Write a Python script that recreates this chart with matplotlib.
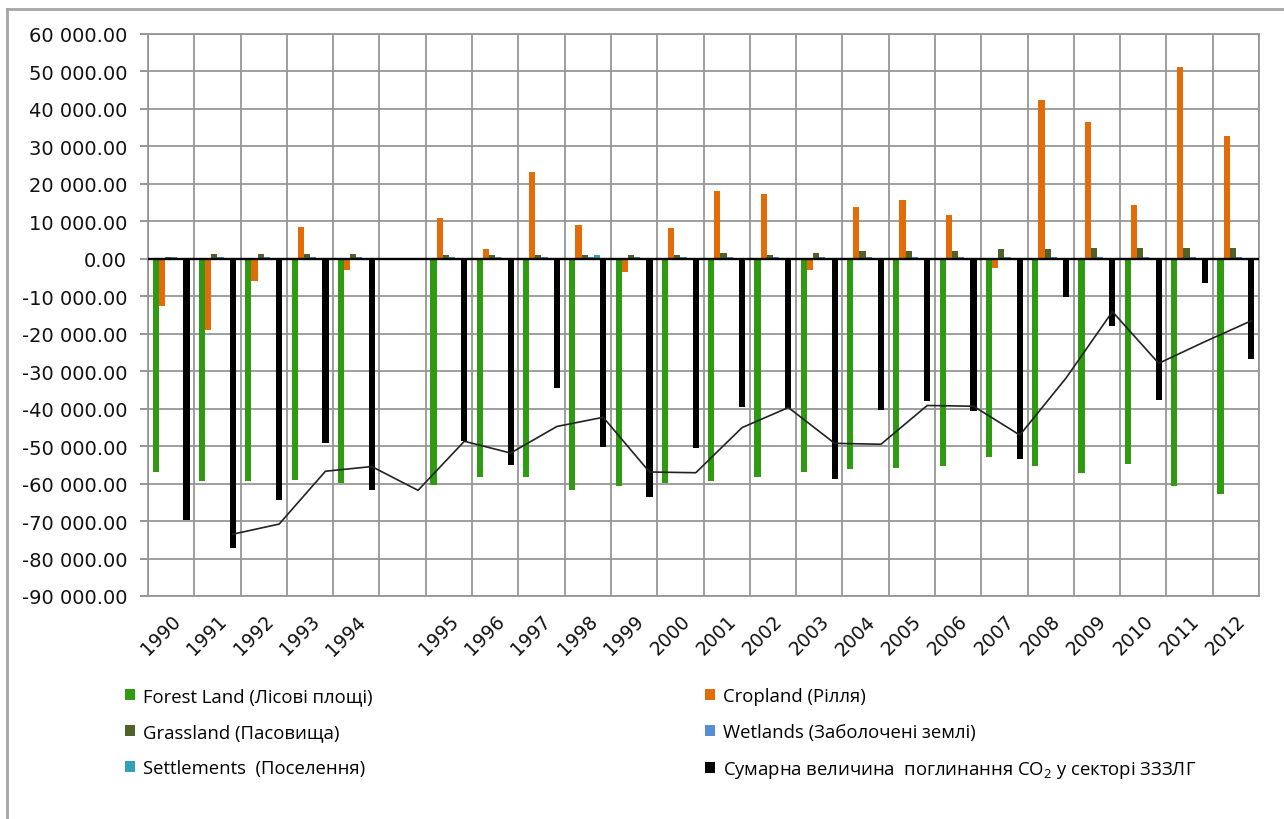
import numpy as np
import matplotlib
matplotlib.use("Agg")
import matplotlib.pyplot as plt
from matplotlib.lines import Line2D
from matplotlib.patches import Patch
from matplotlib.ticker import FuncFormatter, MultipleLocator

nan = np.nan

# Categories (an empty slot separates 1994 and 1995)
years = ["1990", "1991", "1992", "1993", "1994", "",
         "1995", "1996", "1997", "1998", "1999", "2000", "2001", "2002",
         "2003", "2004", "2005", "2006", "2007", "2008", "2009", "2010",
         "2011", "2012"]

forest = [-56900, -59400, -59400, -59000, -59900, nan,
          -60300, -58300, -58300, -61800, -60700, -59900, -59400, -58300,
          -56900, -56000, -55900, -55300, -52900, -55300, -57300, -54900,
          -60700, -62800]
cropland = [-12600, -19100, -6000, 8500, -3000, nan,
            11000, 2700, 23100, 9000, -3500, 8100, 18200, 17200,
            -2900, 13800, 15800, 11800, -2400, 42500, 36600, 14300,
            51200, 32700]
grassland = [600, 1200, 1200, 1200, 1200, nan,
             1100, 1100, 1100, 1100, 1100, 1100, 1600, 1100,
             1600, 2100, 2100, 2100, 2500, 2600, 3000, 3000,
             3000, 3000]
wetlands = [400, 400, 400, 400, 400, nan,
            400, 400, 400, 400, 400, 400, 400, 400,
            400, 400, 400, 400, 400, 400, 400, 400,
            400, 400]
settlements = [300, 300, 300, 300, 300, nan,
               300, 300, 300, 1100, 300, 300, 300, 300,
               300, 300, 300, 300, 300, 300, 300, 300,
               300, 300]
total = [-69700, -77300, -64300, -49100, -61800, nan,
         -48700, -55000, -34500, -50100, -63700, -50500, -39600, -39800,
         -58700, -40300, -38000, -40700, -53400, -10200, -18000, -37800,
         -6400, -26700]
# Two-period moving-average trend of the total (starts at the second slot)
trend = [-73500, -70800, -56700, -55450, -61800,
         -48700, -51850, -44750, -42300, -56900, -57100, -45050, -39700,
         -49250, -49500, -39150, -39350, -47050, -31800, -14100, -27900,
         -22100, -16550]

labels = ["Forest Land (Лісові площі)", "Cropland (Рілля)",
          "Grassland (Пасовища)", "Wetlands (Заболочені землі)",
          "Settlements  (Поселення)",
          "Сумарна величина  поглинання CO$_2$ у секторі ЗЗЗЛГ"]
colors = ["#2f9a12", "#e36c0a", "#4f6228", "#558ed5", "#31a0b8", "#000000"]
series = [forest, cropland, grassland, wetlands, settlements, total]

plt.rcParams["mathtext.fontset"] = "custom"
plt.rcParams["mathtext.rm"] = "Open Sans"
plt.rcParams["mathtext.default"] = "regular"

fig = plt.figure(figsize=(12.84, 8.2), dpi=100)
ax = fig.add_axes([148 / 1284, 1 - 597 / 820, (1259 - 148) / 1284, (597 - 35) / 820])

n = len(years)
x = np.arange(n)
bw = 1 / 7.5
for j, (vals, col) in enumerate(zip(series, colors)):
    off = -0.4 + (j + 0.5) * bw
    ax.bar(x + off, np.array(vals, dtype=float), width=bw, color=col,
           linewidth=0, zorder=3)

trend_x = x[1:] + (-0.4 + 5.5 * bw)
ax.plot(trend_x, trend, color="#222222", lw=1.2, zorder=4)

ax.axhline(0, color="black", lw=1.7, zorder=5)

ax.set_xlim(-0.5, n - 0.5)
ax.set_ylim(-90000, 60000)
ax.yaxis.set_major_locator(MultipleLocator(10000))
ax.yaxis.set_major_formatter(
    FuncFormatter(lambda v, p: f"{v:,.2f}".replace(",", " ")))
ax.set_xticks(x)
ax.set_xticklabels(years, rotation=45, ha="right", va="top",
                   rotation_mode="anchor", fontsize=13.5, color="#111111")
ax.set_xticks(np.arange(-0.5, n, 1), minor=True)
ax.tick_params(axis="x", which="both", length=0, pad=11)
ax.tick_params(axis="y", length=6, color="#8c8c8c", width=1.3,
               labelsize=14, pad=9, labelcolor="#111111")
ax.grid(True, which="minor", axis="x", color="#969696", lw=1.3, zorder=0)
ax.grid(True, which="major", axis="y", color="#969696", lw=1.3, zorder=0)
for s in ax.spines.values():
    s.set_color("#969696")
    s.set_linewidth(1.3)
ax.set_axisbelow(True)

# Legend in two columns
fam = ["Open Sans", "DejaVu Sans"]
handles = [Patch(facecolor=c, edgecolor="none") for c in colors]
common = dict(frameon=False, handlelength=0.55, handleheight=0.55,
              handletextpad=0.45, labelspacing=0.98, borderpad=0,
              borderaxespad=0, prop={"family": fam, "size": 13.3})
leg1 = fig.legend([handles[0], handles[2], handles[4]],
                  [labels[0], labels[2], labels[4]],
                  loc="upper left", bbox_to_anchor=(125 / 1284, 1 - 688 / 820),
                  **common)
leg2 = fig.legend([handles[1], handles[3], handles[5]],
                  [labels[1], labels[3], labels[5]],
                  loc="upper left", bbox_to_anchor=(705 / 1284, 1 - 688 / 820),
                  **common)

# Outer frame (left and top edges)
fig.add_artist(Line2D([7 / 1284, 7 / 1284], [0, 1 - 10 / 820],
                      transform=fig.transFigure, color="#a6a6a6", lw=2))
fig.add_artist(Line2D([7 / 1284, 1], [1 - 10 / 820, 1 - 10 / 820],
                      transform=fig.transFigure, color="#a6a6a6", lw=2))

fig.savefig("out.png", dpi=100, facecolor="white")
